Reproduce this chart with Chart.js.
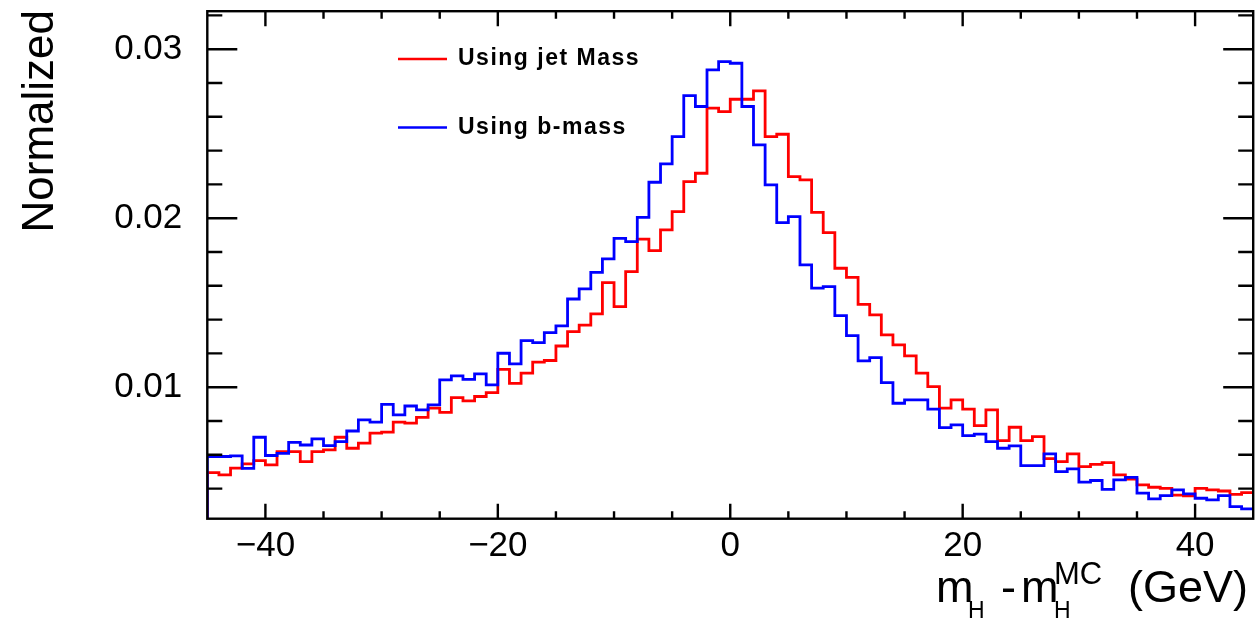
<!DOCTYPE html>
<html lang="en">
<head>
<meta charset="UTF-8" />
<title>m_H - m_H^MC</title>
<script src="https://cdn.jsdelivr.net/npm/chart.js"></script>
<style>
  body { margin: 0; background: #ffffff; }
  canvas { display: block; }
</style>
</head>
<body>
<canvas id="grafico" width="1257" height="619"></canvas>
<script>
// binning of the histograms (GeV): 90 bins of 1 GeV starting at -45
var binLow = -45;
var binWidth = 1;

// normalized bin contents, red = using jet mass, blue = using b-mass
var jetMass = [
  0.00495, 0.00481, 0.00521, 0.00546, 0.00566, 0.00540, 0.00619, 0.00619, 0.00560, 0.00619,
  0.00629, 0.00704, 0.00639, 0.00669, 0.00728, 0.00734, 0.00793, 0.00787, 0.00822, 0.00876,
  0.00851, 0.00938, 0.00919, 0.00945, 0.00968, 0.01106, 0.01023, 0.01083, 0.01148, 0.01158,
  0.01244, 0.01329, 0.01368, 0.01434, 0.01619, 0.01477, 0.01684, 0.01876, 0.01808, 0.01931,
  0.02039, 0.02217, 0.02266, 0.02651, 0.02631, 0.02704, 0.02704, 0.02753, 0.02483, 0.02497,
  0.02246, 0.02227, 0.02035, 0.01915, 0.01704, 0.01650, 0.01490, 0.01428, 0.01310, 0.01250,
  0.01185, 0.01083, 0.01004, 0.00876, 0.00925, 0.00870, 0.00773, 0.00866, 0.00684, 0.00763,
  0.00684, 0.00708, 0.00577, 0.00560, 0.00605, 0.00530, 0.00544, 0.00554, 0.00481, 0.00456,
  0.00422, 0.00408, 0.00402, 0.00362, 0.00357, 0.00402, 0.00392, 0.00386, 0.00366, 0.00376
];
var bMass = [
  0.00590, 0.00590, 0.00594, 0.00520, 0.00704, 0.00596, 0.00609, 0.00674, 0.00658, 0.00694,
  0.00654, 0.00678, 0.00741, 0.00807, 0.00793, 0.00899, 0.00836, 0.00889, 0.00866, 0.00895,
  0.01043, 0.01067, 0.01047, 0.01079, 0.01014, 0.01201, 0.01138, 0.01276, 0.01264, 0.01323,
  0.01363, 0.01522, 0.01582, 0.01680, 0.01759, 0.01881, 0.01862, 0.02005, 0.02213, 0.02321,
  0.02483, 0.02726, 0.02661, 0.02878, 0.02927, 0.02917, 0.02661, 0.02434, 0.02197, 0.01974,
  0.02010, 0.01724, 0.01586, 0.01595, 0.01424, 0.01305, 0.01156, 0.01175, 0.01027, 0.00905,
  0.00925, 0.00925, 0.00870, 0.00761, 0.00777, 0.00714, 0.00722, 0.00678, 0.00639, 0.00653,
  0.00536, 0.00536, 0.00605, 0.00501, 0.00517, 0.00438, 0.00448, 0.00396, 0.00452, 0.00467,
  0.00373, 0.00339, 0.00359, 0.00392, 0.00369, 0.00343, 0.00333, 0.00359, 0.00294, 0.00280
];

var legendLabels = ["Using jet Mass", "Using b-mass"];
var xTicks = [-40, -20, 0, 20, 40];
var yTicks = [0.01, 0.02, 0.03];
var yMin = 0.00222;
var yMax = 0.03225;

// histogram outline: bottom of first edge, then one point per left bin edge, then last edge
function histPoints(values) {
  var pts = [{ x: binLow, y: yMin }];
  for (var i = 0; i < values.length; i++) {
    pts.push({ x: binLow + i * binWidth, y: values[i] });
  }
  pts.push({ x: binLow + values.length * binWidth, y: values[values.length - 1] });
  return pts;
}

// frame with inward ticks on all four sides (ROOT style)
var frame = {
  id: "frame",
  afterDatasetsDraw: function (chart) {
    var ctx = chart.ctx, a = chart.chartArea;
    var sx = chart.scales.x, sy = chart.scales.y;
    ctx.save();
    ctx.strokeStyle = "#000";
    ctx.lineWidth = 2.4;
    ctx.beginPath();
    for (var v = binLow + 5; v < binLow + jetMass.length * binWidth; v += 5) {
      var px = sx.getPixelForValue(v);
      var len = v % 20 === 0 ? 15 : 7.5;
      ctx.moveTo(px, a.bottom); ctx.lineTo(px, a.bottom - len);
      ctx.moveTo(px, a.top); ctx.lineTo(px, a.top + len);
    }
    for (var k = 2; k <= 16; k++) {
      var py = sy.getPixelForValue(k * 0.002);
      var l = k % 5 === 0 ? 30 : 15;
      ctx.moveTo(a.left, py); ctx.lineTo(a.left + l, py);
      ctx.moveTo(a.right, py); ctx.lineTo(a.right - l, py);
    }
    ctx.stroke();
    ctx.strokeRect(a.left, a.top, a.right - a.left, a.bottom - a.top);
    ctx.restore();
  },
  afterDraw: function (chart) {
    var ctx = chart.ctx;
    var ds = chart.data.datasets;
    ctx.save();
    ctx.fillStyle = "#000";

    // y title
    ctx.save();
    ctx.translate(52.5, 10);
    ctx.rotate(-Math.PI / 2);
    ctx.font = '44px "Liberation Sans"';
    ctx.textAlign = "right";
    ctx.textBaseline = "alphabetic";
    ctx.fillText("Normalized", 0, 0);
    ctx.restore();

    // x title  m_H - m_H^MC (GeV)
    ctx.textAlign = "left";
    ctx.textBaseline = "alphabetic";
    ctx.font = '45px "Liberation Sans"';
    ctx.fillText("m", 936, 602);
    ctx.fillText("-", 1001, 602);
    ctx.fillText("m", 1021, 602);
    ctx.fillText("(GeV)", 1128, 602);
    ctx.font = '23px "Liberation Sans"';
    ctx.fillText("H", 968, 618);
    ctx.fillText("H", 1054, 618);
    ctx.font = '31px "Liberation Sans"';
    ctx.fillText("MC", 1054, 584);

    // legend
    var rows = [59, 127.5];
    ctx.font = 'bold 23px "Liberation Sans"';
    ctx.letterSpacing = "1.5px";
    ctx.textBaseline = "middle";
    for (var i = 0; i < legendLabels.length; i++) {
      ctx.strokeStyle = ds[i].borderColor;
      ctx.lineWidth = 2.7;
      ctx.beginPath();
      ctx.moveTo(398, rows[i]);
      ctx.lineTo(447, rows[i]);
      ctx.stroke();
      ctx.fillText(legendLabels[i], 458, rows[i]);
    }
    ctx.restore();
  }
};

const config = {
  type: "line",
  data: {
    datasets: [
      {
        label: legendLabels[0],
        data: histPoints(jetMass),
        borderColor: "#ff0000",
        borderWidth: 2.8,
        stepped: "before",
        pointRadius: 0,
        fill: false,
        order: 1,
      },
      {
        label: legendLabels[1],
        data: histPoints(bMass),
        borderColor: "#0000ff",
        borderWidth: 2.8,
        stepped: "before",
        pointRadius: 0,
        fill: false,
        order: 0,
      },
    ],
  },
  options: {
    responsive: false,
    animation: false,
    devicePixelRatio: 1,
    layout: { padding: { left: 0, right: 3.8, top: 11.2, bottom: 0 } },
    plugins: { legend: { display: false }, tooltip: { enabled: false } },
    scales: {
      x: {
        type: "linear",
        min: binLow,
        max: binLow + jetMass.length * binWidth,
        grid: { display: false, drawTicks: false },
        border: { display: false },
        afterBuildTicks: function (s) { s.ticks = xTicks.map(function (v) { return { value: v }; }); },
        afterFit: function (s) {
          s.height = 100.3;
          s.paddingLeft = 0;
          s.paddingRight = 0;
        },
        ticks: {
          color: "#000",
          padding: 7,
          maxRotation: 0,
          autoSkip: false,
          font: { family: "Liberation Sans", size: 35 },
          callback: function (v) { return v < 0 ? "\u2212" + Math.abs(v) : String(v); },
        },
      },
      y: {
        min: yMin,
        max: yMax,
        grid: { display: false, drawTicks: false },
        border: { display: false },
        afterBuildTicks: function (s) { s.ticks = yTicks.map(function (v) { return { value: v }; }); },
        afterFit: function (s) {
          s.width = 207.3;
          s.paddingTop = 0;
          s.paddingBottom = 0;
        },
        ticks: {
          color: "#000",
          padding: 25,
          font: { family: "Liberation Sans", size: 35 },
          callback: function (v) { return v.toFixed(2); },
        },
      },
    },
  },
  plugins: [frame],
};

var myChart = new Chart(document.getElementById("grafico"), config);
</script>
</body>
</html>
